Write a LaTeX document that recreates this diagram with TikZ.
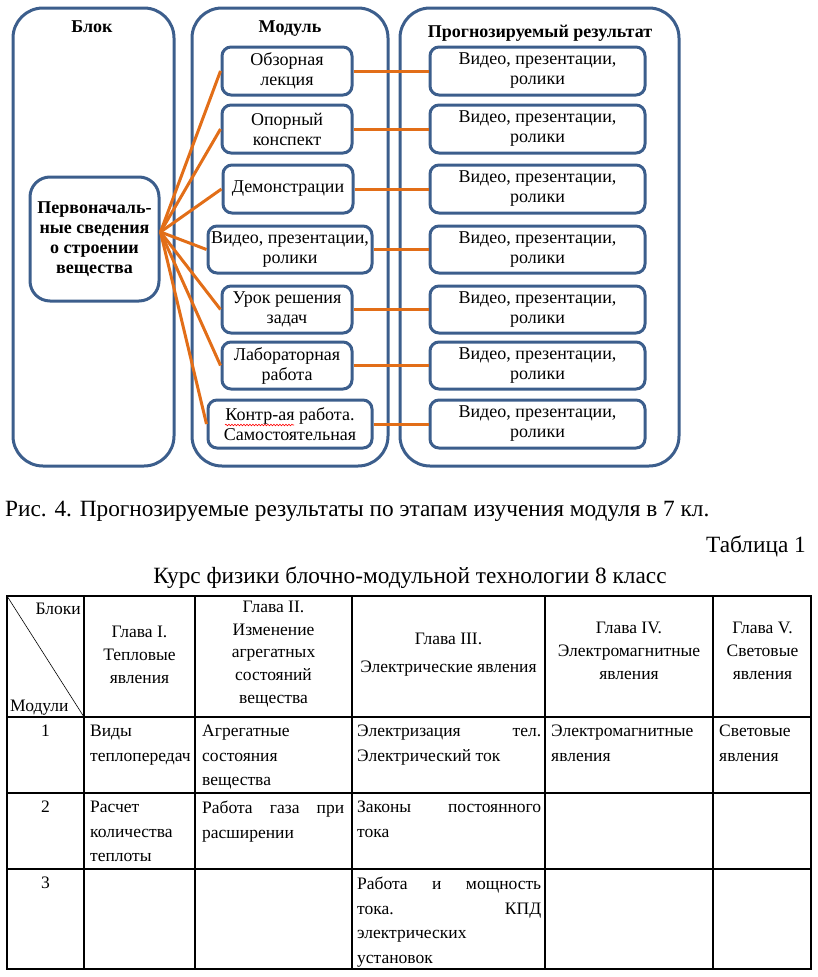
\documentclass[tikz,border=0pt]{standalone}
\usepackage{fontspec}
\setmainfont{Liberation Serif}
\usepackage{tikz}
\usetikzlibrary{positioning,decorations.pathmorphing}
\definecolor{boxblue}{RGB}{60,94,140}
\definecolor{linkorange}{RGB}{226,110,24}

\begin{document}
\begin{tikzpicture}[x=1pt, y=-1pt,
 frame/.style = {draw=boxblue, line width=3pt, rounded corners=30pt, inner sep=0pt},
 modbox/.style = {draw=boxblue, line width=3pt, rounded corners=9pt, align=center, inner sep=0pt,
   minimum height=48pt, font=\fontsize{18}{20}\selectfont},
 title/.style = {font=\fontsize{18}{20}\selectfont\bfseries},
 link/.style = {draw=linkorange, line width=3pt},
 cell/.style = {font=\fontsize{17.5}{24.5}\selectfont, inner sep=0pt},
 head/.style = {font=\fontsize{17.5}{22.8}\selectfont, inner sep=0pt, align=center},
 caption/.style = {font=\fontsize{23.3}{26}\selectfont, inner sep=0pt}]
 \useasboundingbox (0,0) rectangle (817,977);

 % columns of the scheme
 \node[frame, minimum width=161pt, minimum height=458pt] (blkcol) at (93.5,237) {};
 \node[frame, minimum width=196pt, minimum height=458pt] (modcol) at (290,237) {};
 \node[frame, minimum width=279pt, minimum height=458pt] (rescol) at (539.5,237) {};
 \node[title] (tblk) at (92,27) {Блок};
 \node[title] (tmod) at (290,29) {Модуль};
 \node[title] (tres) at (540,33) {Прогнозируемый результат};

 \node[modbox, minimum width=129pt, minimum height=124pt, rounded corners=20pt, font=\fontsize{18}{20}\selectfont\bfseries]
   (blk) at (94.5,239) {Первоначаль-\\ные сведения\\о строении\\вещества};

 \node[modbox, minimum width=130pt] (m1) at (287,71) {Обзорная\\лекция};
 \node[modbox, minimum width=130pt] (m2) at (287,129) {Опорный\\конспект};
 \node[modbox, minimum width=130pt] (m3) at (288,189) {Демонстрации};
 \node[modbox, minimum width=164pt, minimum height=47pt] (m4) at (290,249.5) {Видео, презентации,\\ролики};
 \node[modbox, minimum width=130pt, minimum height=47pt] (m5) at (287,309.5) {Урок решения\\задач};
 \node[modbox, minimum width=130pt, minimum height=47pt] (m6) at (287,365.5) {Лабораторная\\работа};
 \node[modbox, minimum width=164pt] (m7) at (290,424) {Контр-ая работа.\\Самостоятельная};

 \node[modbox, minimum width=215pt] (r1) at (537.5,71) {Видео, презентации,\\ролики};
 \node[modbox, minimum width=215pt] (r2) at (537.5,129) {Видео, презентации,\\ролики};
 \node[modbox, minimum width=215pt] (r3) at (537.5,189) {Видео, презентации,\\ролики};
 \node[modbox, minimum width=215pt, minimum height=47pt] (r4) at (537.5,249.5) {Видео, презентации,\\ролики};
 \node[modbox, minimum width=215pt, minimum height=47pt] (r5) at (537.5,309.5) {Видео, презентации,\\ролики};
 \node[modbox, minimum width=215pt, minimum height=47pt] (r6) at (537.5,365.5) {Видео, презентации,\\ролики};
 \node[modbox, minimum width=215pt] (r7) at (537.5,424) {Видео, презентации,\\ролики};

 \coordinate (hub) at ([yshift=7pt]blk.east);
 \draw[link] (hub) -- (m1.west);
 \draw[link] (hub) -- (m2.west);
 \draw[link] (hub) -- (m3.west);
 \draw[link] (hub) -- (m4.west);
 \draw[link] (hub) -- (m5.west);
 \draw[link] (hub) -- (m6.west);
 \draw[link] (hub) -- (m7.west);
 \draw[link] (m1) -- (r1);
 \draw[link] (m2) -- (r2);
 \draw[link] (m3) -- (r3);
 \draw[link] (m4) -- (r4);
 \draw[link] (m5) -- (r5);
 \draw[link] (m6) -- (r6);
 \draw[link] (m7) -- (r7);
 \draw[red, line width=0.6pt, decorate, decoration={snake, amplitude=0.8pt, segment length=3pt}]
   (225,425) -- (294,425);

 % captions
 \node[caption, anchor=west] (cap) at (5,511) {Рис. 4. Прогнозируемые результаты по этапам изучения модуля в 7 кл.};
 \node[caption, anchor=east] (tnum) at (806,546) {Таблица 1};
 \node[caption] (ttl) at (410,578) {Курс физики блочно-модульной технологии 8 класс};

 % table
 \draw[line width=1.3pt] (7,596) rectangle (811,969);
 \draw[line width=1.3pt] (84,596) -- (84,969) (195,596) -- (195,969) (352,596) -- (352,969)
   (545,596) -- (545,969) (713,596) -- (713,969);
 \draw[line width=1.3pt] (7,717) -- (811,717) (7,793) -- (811,793) (7,869) -- (811,869);
 \draw[line width=0.6pt] (7,596) -- (84,717);

 \node[cell, anchor=east] (blocks) at (81,609) {Блоки};
 \node[cell, anchor=west] (modules) at (10,708) {Модули};
 \node[head] (h1) at (139.5,655) {Глава I.\\Тепловые\\явления};
 \node[head] (h2) at (273.5,654) {Глава II.\\Изменение\\агрегатных\\состояний\\вещества};
 \node[head, font=\fontsize{17.5}{28}\selectfont] (h3) at (448.5,655) {Глава III.\\Электрические явления};
 \node[head] (h4) at (629,651) {Глава IV.\\Электромагнитные\\явления};
 \node[head] (h5) at (762.5,651) {Глава V.\\Световые\\явления};

 \node[cell, anchor=north] (n1) at (45.5,725) {1};
 \node[cell, anchor=north] (n2) at (45.5,801) {2};
 \node[cell, anchor=north] (n3) at (45.5,877) {3};

 \node[cell, anchor=north west, align=left] (c11) at (90,725) {Виды\\теплопередач};
 \node[cell, anchor=north west, align=left] (c12) at (202,725) {Агрегатные\\состояния\\вещества};
 \node[cell, anchor=north west] (c13) at (357,725) {\parbox[t]{184pt}{Электризация\hfill тел.\\Электрический ток}};
 \node[cell, anchor=north west, align=left] (c14) at (551,725) {Электромагнитные\\явления};
 \node[cell, anchor=north west, align=left] (c15) at (719,725) {Световые\\явления};

 \node[cell, anchor=north west, align=left] (c21) at (90,801) {Расчет\\количества\\теплоты};
 \node[cell, anchor=north west] (c22) at (202,801) {\parbox[t]{142pt}{Работа\hfill газа\hfill при\\расширении}};
 \node[cell, anchor=north west] (c23) at (357,801) {\parbox[t]{184pt}{Законы\hfill постоянного\\тока}};

 \node[cell, anchor=north west] (c33) at (357,877) {\parbox[t]{184pt}{Работа\hfill и\hfill мощность\\тока.\hfill КПД\\электрических\\установок}};
\end{tikzpicture}
\end{document}
